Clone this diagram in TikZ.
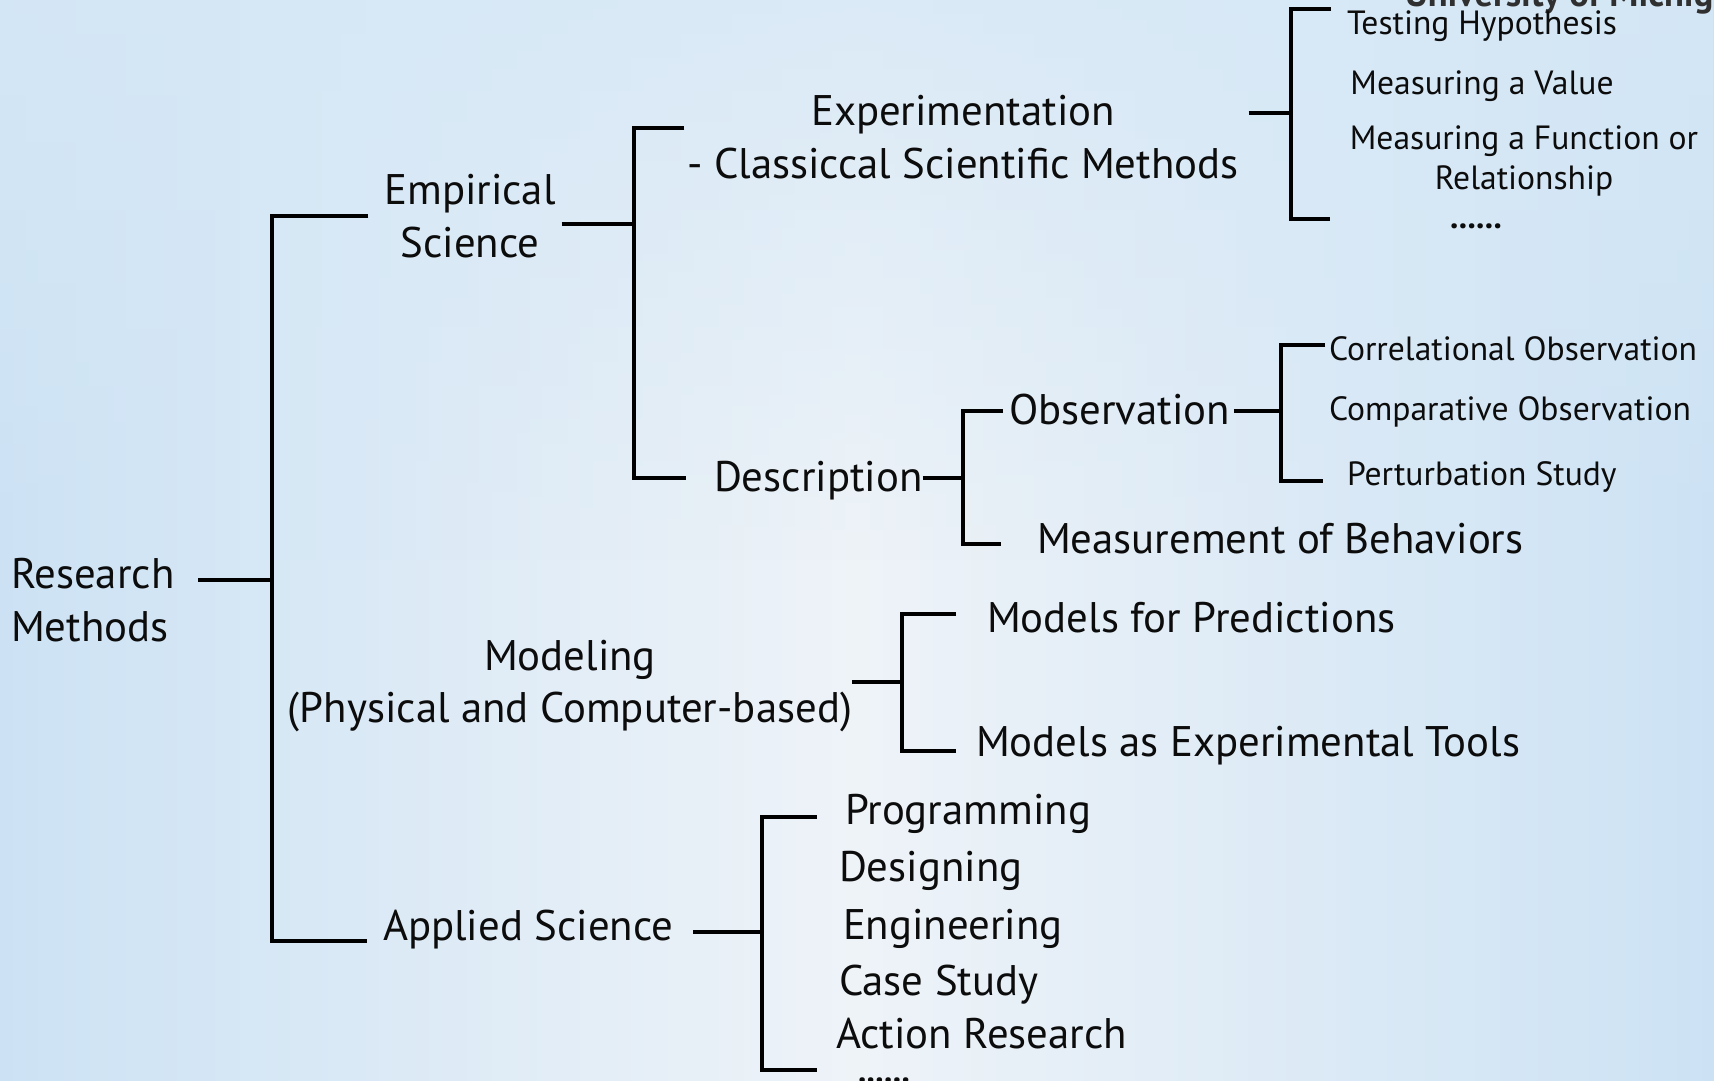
\documentclass[tikz,border=0pt]{standalone}
\usepackage{fontspec}
\setmainfont{PT Sans}
\usepackage{tikz}
\usepackage{xcolor}
\usetikzlibrary{fadings}
\definecolor{bg-edge}{RGB}{204,226,244}
\definecolor{bg-top}{RGB}{214,232,246}
\definecolor{bg-mid}{RGB}{238,243,248}
\definecolor{ink}{RGB}{12,12,12}
\tikzfading[name=fade-down, top color=transparent!0, bottom color=transparent!100]
\tikzfading[name=fade-band, top color=transparent!100, middle color=transparent!0, bottom color=transparent!100]
\tikzset{
    big-label/.style = {text=ink, inner sep=0pt, outer sep=0pt, font=\fontsize{21.4}{26.25}\selectfont},
    small-label/.style = {text=ink, inner sep=0pt, outer sep=0pt, font=\fontsize{16.8}{20}\selectfont},
    big-line/.style = {text height=13.6pt, text depth=0pt},
    small-line/.style = {text height=12pt, text depth=0pt},
    branch-line/.style = {draw=black, line width=1.7pt},
}

\begin{document}
\begin{tikzpicture}[x=0.5pt, y=-0.5pt]
\useasboundingbox (0,0) rectangle (1714,1081);
\clip (0,0) rectangle (1714,1081);
\shade[left color=bg-edge, right color=bg-edge, middle color=bg-mid] (0,0) rectangle (1714,1081);
\fill[bg-top, path fading=fade-down, fill opacity=0.8] (0,0) rectangle (1714,560);
\fill[white, path fading=fade-band, fill opacity=0.6] (0,860) rectangle (1714,1000);

\node[small-label, anchor=base west, font=\bfseries\fontsize{18.2}{20}\selectfont, text=ink!85] (uni) at (1405,7) {University of Michigan};

\node[big-label, align=left, anchor=west] (rm) at (11,600) {Research\\Methods};
\node[big-label, align=center] (emp) at (470,216) {Empirical\\Science};
\node[big-label, align=center] (exp) at (963,137) {Experimentation\\- Classiccal Scientific Methods};
\node[big-label, align=center] (mod) at (570,686) {Modeling\\(Physical and Computer-based)};
\node[big-label, big-line, anchor=west] (desc) at (714,478) {Description};
\node[big-label, big-line, anchor=west] (obs) at (1009,411) {Observation};
\node[big-label, big-line, anchor=west] (mob) at (1037,540) {Measurement of Behaviors};
\node[big-label, big-line, anchor=west] (mfp) at (987,619) {Models for Predictions};
\node[big-label, big-line, anchor=west] (met) at (976,743) {Models as Experimental Tools};
\node[big-label, big-line, anchor=west] (app) at (383,927) {Applied Science};
\node[big-label, big-line, anchor=west] (prog) at (845,811) {Programming};
\node[big-label, big-line, anchor=west] (des) at (839,868) {Designing};
\node[big-label, big-line, anchor=west] (eng) at (843,926) {Engineering};
\node[big-label, big-line, anchor=west] (cs) at (839,982) {Case Study};
\node[big-label, big-line, anchor=west] (ar) at (836,1035) {Action Research};
\node[small-label, small-line, anchor=west, font=\bfseries\fontsize{16.8}{20}\selectfont] (dots2) at (858,1070) {......};

\node[small-label, small-line] (th) at (1482,23) {Testing Hypothesis};
\node[small-label, small-line] (mav) at (1482,83) {Measuring a Value};
\node[small-label, align=center] (mfr) at (1524,161) {Measuring a Function or\\Relationship};
\node[small-label, small-line, font=\bfseries\fontsize{16.8}{20}\selectfont] (dots1) at (1476,216) {......};
\node[small-label, small-line, anchor=west] (co) at (1329,348) {Correlational Observation};
\node[small-label, small-line, anchor=west] (cpo) at (1329,408) {Comparative Observation};
\node[small-label, small-line, anchor=west] (ps) at (1347,473) {Perturbation Study};

\coordinate (b0) at (272,580);
\coordinate (b1) at (634,224);
\coordinate (b2) at (1291,113);
\coordinate (b3) at (963,478);
\coordinate (b4) at (1281,411);
\coordinate (b5) at (902,682);
\coordinate (b6) at (762,932);

\draw[branch-line, shorten <=12pt] (rm.east |- b0) -- (b0);
\draw[branch-line, shorten <=8pt, shorten >=8pt] (emp.west) -| (b0) |- ([yshift=-7pt]app.west);
\draw[branch-line, shorten <=3pt] (emp.east |- b1) -- (b1);
\draw[branch-line, shorten <=1.5pt, shorten >=14pt] ([yshift=4.5pt]exp.west) -| (b1) |- (desc.west);
\draw[branch-line, shorten <=5pt] (exp.east |- b2) -- (b2);
\draw[branch-line, shorten <=8pt, shorten >=60pt] ([yshift=7pt]th.west) -| (b2) |- ([yshift=-1.5pt]dots1.west);
\draw[branch-line] (desc.east) -- (b3);
\draw[branch-line, shorten <=3pt, shorten >=18pt] (obs.west) -| (b3) |- ([yshift=-2pt]mob.west);
\draw[branch-line, shorten <=2pt] (obs.east) -- (b4);
\draw[branch-line, shorten <=2pt, shorten >=12pt] ([yshift=1.5pt]co.west) -| (b4) |- ([yshift=-4pt]ps.west);
\draw[branch-line] (mod.east |- b5) -- (b5);
\draw[branch-line, shorten <=15.5pt, shorten >=10pt] ([yshift=2.5pt]mfp.west) -| (b5) |- ([yshift=-4pt]met.west);
\draw[branch-line, shorten <=10pt] (app.east |- b6) -- (b6);
\draw[branch-line, shorten <=14pt, shorten >=20.5pt] ([yshift=-3pt]prog.west) -| (b6) |- (dots2.west);
\end{tikzpicture}
\end{document}
